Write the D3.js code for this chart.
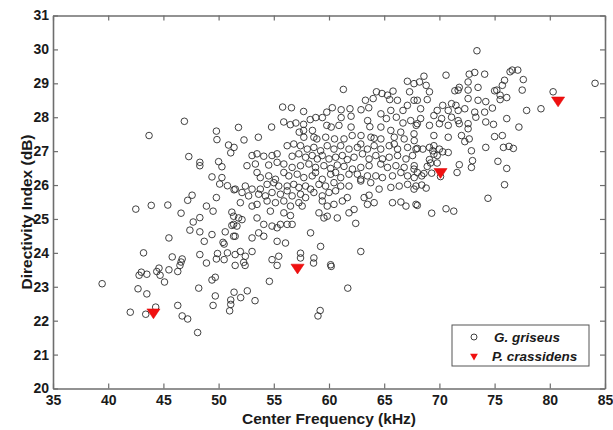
<!DOCTYPE html>
<html>
<head>
<meta charset="utf-8">
<script src="https://cdn.jsdelivr.net/npm/d3@7"></script>
<style>
  body { margin: 0; background: #fff; }
  text { font-family: "Liberation Sans", Arial, sans-serif; font-weight: bold; fill: #1a1a1a; }
</style>
</head>
<body>
<svg id="chart" width="613" height="430"></svg>
<script>
const xTicks = [35, 40, 45, 50, 55, 60, 65, 70, 75, 80, 85];
const yTicks = [20, 21, 22, 23, 24, 25, 26, 27, 28, 29, 30, 31];

// P. crassidens: [center frequency kHz, directivity index dB]
const crassidens = [[44.1, 22.25], [57.15, 23.57], [70.1, 26.39], [80.75, 28.5]];

// G. griseus left to right in strips
const griseusLow = [
  [39.45, 23.09], [42.8, 23.34], [43.0, 23.43], [43.5, 23.37], [42.7, 22.94], [43.5, 22.79],
  [44.4, 23.45], [44.6, 23.55], [44.7, 23.34], [45.1, 23.14], [45.5, 23.5], [46.3, 23.45],
  [46.5, 23.63], [46.6, 23.73], [46.3, 22.45], [46.7, 22.14], [47.2, 22.05], [48.1, 21.65],
  [48.2, 22.96], [48.9, 23.7], [49.4, 23.2], [49.7, 23.28], [49.7, 22.73], [49.5, 22.45],
  [51.1, 22.48], [51.0, 22.29], [51.1, 22.61], [51.4, 22.84], [51.5, 23.63], [42.0, 22.25],
  [43.4, 22.19], [44.3, 22.4],
  [52.4, 23.63], [55.3, 23.63], [54.6, 23.16], [52.6, 22.88], [52.0, 22.68], [53.3, 22.59],
  [58.6, 23.7], [60.2, 23.6], [61.7, 22.96], [59.2, 22.3], [59.0, 22.14]
];

const griseusLeft = [
  [43.7, 27.46], [49.85, 27.34], [50.9, 27.18], [51.4, 27.11], [51.1, 26.95], [47.3, 26.84],
  [48.3, 26.67], [48.3, 26.57], [50.0, 26.69], [50.3, 26.54], [49.4, 26.24], [50.3, 26.22],
  [50.1, 26.03], [50.8, 25.98], [51.4, 25.86], [49.8, 25.63], [47.6, 25.70], [47.2, 25.55],
  [48.9, 25.38], [49.5, 25.23], [51.2, 25.2], [45.4, 25.41], [43.9, 25.40], [42.5, 25.29],
  [46.6, 25.17], [48.3, 25.04], [47.7, 24.91], [47.4, 24.67], [48.3, 24.62], [49.4, 24.54],
  [50.6, 24.62], [51.2, 24.81], [51.5, 24.49], [48.7, 24.34], [50.4, 24.31], [50.5, 24.26],
  [45.5, 24.44], [48.3, 23.95], [49.9, 23.98], [50.8, 24.0], [51.5, 23.95], [43.2, 24.0],
  [45.8, 23.88], [46.7, 23.82], [49.8, 23.82], [50.5, 23.8],
  [46.9, 27.88], [49.8, 27.59], [51.8, 27.7]
];

const griseusTop = [
  [52.3, 27.33], [53.6, 27.41], [54.8, 27.71], [55.8, 28.3], [56.6, 28.28], [57.7, 28.17],
  [55.9, 27.86], [56.5, 27.78], [57.0, 27.83], [57.7, 27.79], [57.7, 27.61], [58.3, 27.93],
  [58.8, 27.99], [59.4, 27.99], [59.8, 28.15], [60.3, 28.28], [59.8, 27.76], [60.2, 27.71],
  [58.9, 27.36], [59.7, 27.41], [60.5, 27.36], [61.1, 28.22], [61.9, 28.25], [61.1, 27.99],
  [62.0, 28.03], [61.3, 28.82], [60.9, 27.76], [62.0, 27.71], [62.9, 28.22], [63.3, 28.5],
  [63.6, 28.28], [64.0, 28.55], [64.3, 28.75], [64.8, 28.70], [65.3, 28.65], [65.8, 28.77],
  [65.5, 28.52], [66.2, 28.5], [67.1, 29.06], [67.7, 28.99], [68.2, 29.04], [67.3, 28.75],
  [63.5, 27.9], [63.7, 27.72], [64.7, 28.1], [65.2, 27.96], [65.6, 28.2], [66.1, 28.0],
  [66.7, 28.2], [67.1, 28.35], [67.7, 28.5], [66.7, 27.83], [67.4, 27.9], [67.9, 27.76],
  [64.7, 27.71], [65.6, 27.61], [66.5, 27.56], [67.7, 27.51], [62.1, 27.46], [62.9, 27.46],
  [63.8, 27.41], [64.7, 27.36], [58.5, 27.61], [57.3, 27.56]
];

const griseusRight = [
  [73.4, 29.96], [70.6, 29.24], [72.7, 29.27], [73.2, 29.32], [74.1, 29.27], [76.4, 29.34],
  [76.6, 29.39], [77.1, 29.39], [77.6, 29.11], [75.9, 29.09], [75.7, 28.94], [75.2, 28.80],
  [75.0, 28.78], [75.5, 28.65], [76.1, 28.58], [75.5, 28.52], [77.5, 28.8], [72.6, 29.04],
  [73.5, 28.88], [72.6, 28.8], [71.7, 28.8], [71.4, 28.78], [71.8, 28.88], [68.6, 29.21],
  [68.8, 28.94], [69.1, 28.75], [68.0, 28.5], [68.9, 28.52], [68.3, 28.25], [69.8, 28.2],
  [70.3, 28.35], [71.1, 28.40], [71.5, 28.35], [70.8, 28.2], [71.7, 28.2], [72.6, 28.55],
  [73.5, 28.5], [74.2, 28.46], [72.3, 28.25], [73.2, 28.15], [74.1, 28.15], [74.8, 28.27],
  [69.5, 28.05], [70.2, 27.96], [71.1, 28.0], [71.7, 27.9], [68.3, 27.96], [68.0, 27.81],
  [69.1, 27.76], [70.0, 27.81], [70.8, 27.76], [71.8, 27.81], [72.6, 27.81], [72.6, 27.66],
  [73.3, 28.0], [74.2, 27.86], [74.9, 27.79], [76.1, 27.96], [77.2, 27.71], [77.9, 28.2],
  [79.2, 28.25], [80.3, 28.75], [84.1, 29.0], [69.5, 27.46], [72.0, 27.46], [72.7, 27.36],
  [75.0, 27.43], [75.7, 27.46], [70.8, 27.41],
  [72.3, 27.28], [72.9, 27.01], [74.2, 27.11], [75.8, 27.11], [76.3, 27.14], [76.7, 27.08],
  [73.0, 26.72], [72.9, 26.52], [71.8, 26.60], [71.6, 26.37], [75.3, 26.70], [76.1, 26.49],
  [75.9, 26.01], [74.4, 25.61], [70.6, 25.30], [71.3, 25.23], [69.3, 25.17], [68.0, 25.40],
  [68.4, 26.0], [68.8, 25.91], [68.0, 26.37], [68.4, 26.27], [68.6, 26.34], [69.3, 26.35],
  [68.9, 26.55], [69.1, 26.75], [69.8, 26.65], [70.1, 26.25], [68.0, 27.08], [68.5, 27.06],
  [69.1, 27.11], [69.4, 27.01], [69.5, 26.91], [70.0, 27.06], [70.3, 26.98], [70.8, 26.96],
  [69.5, 27.16], [69.8, 26.87], [69.2, 26.65], [67.7, 26.47], [67.7, 25.88]
];

const griseusMid = [
  [57.72, 27.41], [58.63, 27.41], [61.36, 27.36], [64.09, 27.38], [65.91, 27.41], [66.81, 27.36], [67.72, 27.31],
  [56.21, 27.16], [56.81, 27.21], [57.42, 27.16], [58.03, 27.06], [58.63, 27.11], [59.24, 27.01],
  [59.84, 27.16], [60.45, 27.06], [61.06, 27.16], [61.81, 27.06], [62.57, 27.11], [62.88, 27.21],
  [63.48, 27.06], [64.09, 27.16], [64.69, 27.06], [65.45, 27.16], [65.91, 27.21], [66.21, 27.06],
  [67.12, 27.11], [67.88, 27.06],
  [53.03, 26.87], [53.48, 26.92], [54.09, 26.85], [54.84, 26.87], [55.30, 26.92], [56.66, 26.85],
  [57.27, 26.92], [57.88, 26.82], [58.48, 26.87], [58.94, 26.77], [59.39, 26.87], [60.0, 26.77],
  [60.60, 26.82], [61.21, 26.87], [61.66, 26.75], [62.27, 26.82], [63.03, 26.92], [63.63, 26.77],
  [64.24, 26.87], [64.84, 26.77], [65.45, 26.82], [66.21, 26.87], [66.97, 26.77], [67.57, 26.87],
  [52.57, 26.57], [53.33, 26.62], [54.54, 26.59], [55.30, 26.67], [55.91, 26.62], [56.66, 26.52],
  [57.42, 26.57], [58.18, 26.62], [58.78, 26.52], [59.54, 26.57], [60.15, 26.49], [60.75, 26.59],
  [61.36, 26.55], [62.12, 26.47], [62.88, 26.52], [63.63, 26.57], [64.69, 26.62], [65.30, 26.52],
  [66.06, 26.57], [66.81, 26.52], [67.72, 26.57],
  [53.48, 26.37], [53.78, 26.22], [54.54, 26.27], [55.15, 26.17], [55.91, 26.37], [56.36, 26.27],
  [57.12, 26.32], [57.72, 26.22], [58.48, 26.27], [58.78, 26.37], [59.39, 26.17], [60.15, 26.32],
  [60.60, 26.37], [61.06, 26.22], [61.81, 26.32], [62.57, 26.32], [62.88, 26.17], [63.48, 26.27],
  [64.24, 26.27], [64.84, 26.22], [65.75, 26.27], [66.51, 26.37], [67.12, 26.27], [67.72, 26.22],
  [51.51, 25.88], [52.42, 25.97], [53.03, 25.88], [53.78, 25.88], [54.39, 26.02], [55.0, 26.07],
  [55.45, 25.97], [56.21, 25.97], [56.81, 26.02], [57.27, 25.93], [57.88, 25.97], [58.33, 25.88],
  [59.09, 26.02], [59.69, 25.97], [60.45, 26.07], [61.06, 25.97], [61.81, 25.97], [62.88, 26.12],
  [63.78, 26.07], [64.54, 25.88], [65.60, 25.93], [66.36, 25.97], [67.12, 26.02], [67.88, 25.97],
  [52.12, 25.78], [52.72, 25.68], [53.63, 25.73], [54.24, 25.68], [54.84, 25.78], [55.60, 25.73],
  [56.21, 25.83], [56.66, 25.68], [57.42, 25.73], [57.88, 25.63], [58.63, 25.78], [59.39, 25.68],
  [60.0, 25.78], [60.60, 25.83], [61.21, 25.53], [61.66, 25.63], [63.18, 25.63], [63.63, 25.70],
  [65.75, 25.48], [66.51, 25.50], [66.97, 25.38], [67.88, 25.43],
  [51.97, 25.48], [53.03, 25.38], [53.48, 25.43], [54.39, 25.53], [55.15, 25.48], [55.91, 25.53],
  [56.51, 25.38], [57.27, 25.48], [57.57, 25.38], [59.39, 25.53], [59.84, 25.38], [60.45, 25.43],
  [63.48, 25.43], [64.09, 25.48],
  [51.36, 25.08], [51.81, 25.03], [52.12, 24.98], [53.48, 25.03], [54.69, 25.23], [55.91, 25.18],
  [56.51, 25.10], [59.09, 25.18], [59.54, 25.03], [59.84, 25.08], [60.75, 25.03], [61.81, 25.18],
  [62.27, 25.28], [62.42, 24.87],
  [51.36, 24.84], [51.66, 24.79], [54.09, 24.84], [54.84, 24.79], [55.30, 24.74], [55.60, 24.84],
  [56.21, 24.84], [56.66, 24.84], [53.63, 24.59], [55.30, 24.34], [56.06, 24.29], [58.33, 24.59],
  [51.36, 24.49], [53.03, 24.44], [54.09, 24.49], [59.24, 24.19], [62.88, 24.04],
  [51.97, 24.04], [52.42, 23.90], [53.03, 24.04], [55.45, 23.90], [57.42, 23.99], [57.42, 23.85],
  [58.63, 23.85], [54.84, 23.80], [52.27, 23.72], [60.15, 23.65]
];

const griseus = [].concat(griseusLow, griseusLeft, griseusTop, griseusRight, griseusMid);

const svg = d3.select("#chart");
const plot = { left: 53, right: 605, top: 15.5, bottom: 388.5 };
const axisColor = "#6e6e6e";

const x = d3.scaleLinear().domain([35, 85]).range([plot.left, plot.right]);
const y = d3.scaleLinear().domain([20, 31]).range([plot.bottom, plot.top]);

// markers
svg.append("g")
  .selectAll("circle")
  .data(griseus)
  .join("circle")
  .attr("cx", (d) => x(d[0]))
  .attr("cy", (d) => y(d[1]))
  .attr("r", 3.3)
  .attr("fill", "none")
  .attr("stroke", "#2b2b2b")
  .attr("stroke-width", 0.9);

const tri = d3.symbol(d3.symbolTriangle);

svg.append("g")
  .selectAll("path")
  .data(crassidens)
  .join("path")
  .attr("d", tri.size(62)())
  .attr("transform", (d) => `translate(${x(d[0])},${y(d[1])}) rotate(180) scale(1.1,0.95)`)
  .attr("fill", "#f01010")
  .attr("stroke", "#e00000")
  .attr("stroke-width", 0.5);

// axes: ticks inside on all four sides, MATLAB box style
const axBottom = svg.append("g").attr("transform", `translate(0,${plot.bottom})`)
  .call(d3.axisBottom(x).tickValues(xTicks).tickSizeInner(-5).tickSizeOuter(0).tickPadding(7));
const axTop = svg.append("g").attr("transform", `translate(0,${plot.top})`)
  .call(d3.axisTop(x).tickValues(xTicks).tickSizeInner(-5).tickSizeOuter(0).tickFormat(""));
const axLeft = svg.append("g").attr("transform", `translate(${plot.left},0)`)
  .call(d3.axisLeft(y).tickValues(yTicks).tickSizeInner(-5).tickSizeOuter(0).tickPadding(4));
const axRight = svg.append("g").attr("transform", `translate(${plot.right},0)`)
  .call(d3.axisRight(y).tickValues(yTicks).tickSizeInner(-5).tickSizeOuter(0).tickFormat(""));

[axBottom, axTop, axLeft, axRight].forEach((g) => {
  g.select(".domain").attr("stroke", axisColor).attr("stroke-width", 1.6);
  g.selectAll(".tick line").attr("stroke", axisColor).attr("stroke-width", 1.2);
  g.selectAll(".tick text").attr("fill", "#1a1a1a").style("font-size", "14px")
    .style("font-family", '"Liberation Sans", Arial, sans-serif').style("font-weight", "bold");
});

// axis titles
svg.append("text")
  .attr("x", 329)
  .attr("y", 424)
  .attr("text-anchor", "middle")
  .style("font-size", "15.5px")
  .text("Center Frequency (kHz)");

svg.append("text")
  .attr("transform", `translate(27,212) rotate(-90)`)
  .attr("text-anchor", "middle")
  .attr("dy", "0.35em")
  .style("font-size", "15.5px")
  .text("Directivity Index (dB)");

// legend
const lg = svg.append("g").attr("transform", "translate(452,325)");
lg.append("rect")
  .attr("width", 137).attr("height", 41)
  .attr("fill", "#fff").attr("stroke", "#555").attr("stroke-width", 1);
lg.append("circle")
  .attr("cx", 22).attr("cy", 12).attr("r", 3)
  .attr("fill", "none").attr("stroke", "#2b2b2b").attr("stroke-width", 0.9);
lg.append("path")
  .attr("d", tri.size(26)())
  .attr("transform", "translate(22,31) rotate(180)")
  .attr("fill", "#f01010");
lg.append("text").attr("x", 42).attr("y", 17)
  .style("font-size", "13.5px").style("font-style", "italic").text("G. griseus");
lg.append("text").attr("x", 40).attr("y", 36)
  .style("font-size", "13.5px").style("font-style", "italic").text("P. crassidens");
</script>
</body>
</html>
